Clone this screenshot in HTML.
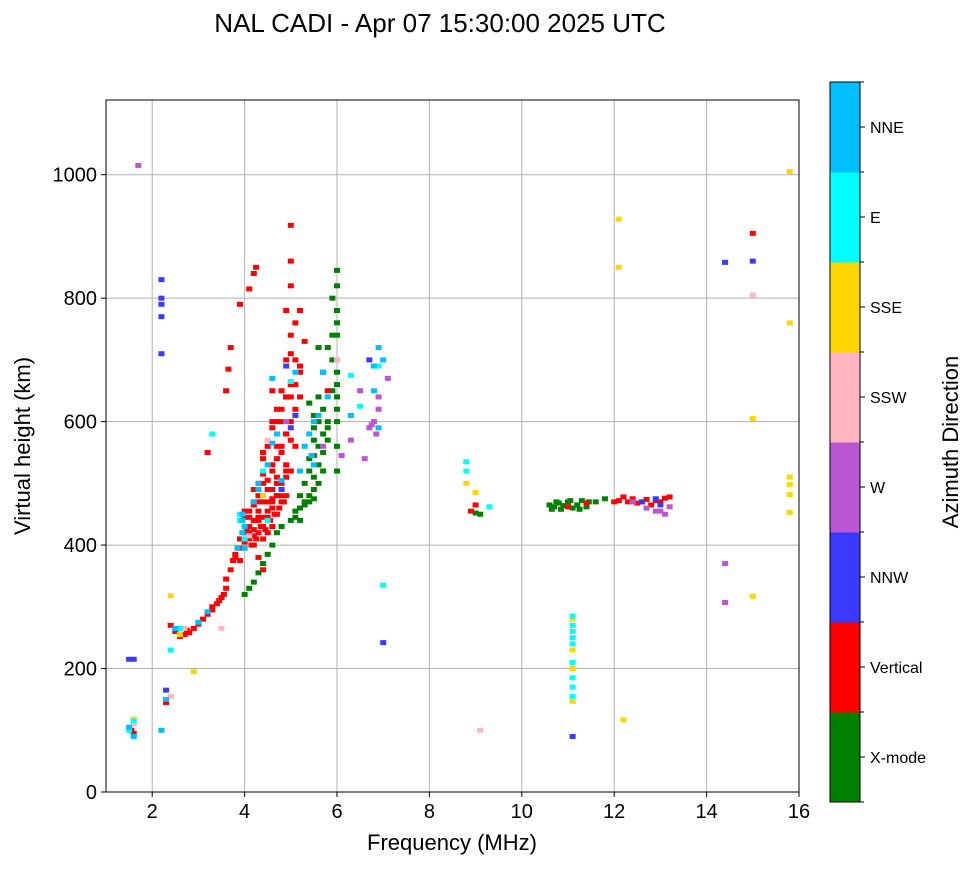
<!DOCTYPE html>
<html><head><meta charset="utf-8"><style>
body{margin:0;background:#fff;}
svg text{font-family:"Liberation Sans",sans-serif;}
</style></head><body>
<svg id="chart" width="972" height="865" xmlns="http://www.w3.org/2000/svg">
<text x="440" y="32" font-size="26" text-anchor="middle">NAL CADI - Apr 07 15:30:00 2025 UTC</text>
<g id="grid"></g>
<g id="marks"></g>
<rect x="106" y="100" width="693" height="692" fill="none" stroke="#000" stroke-width="1"/>
<g id="axes"></g>
<text x="452" y="850" font-size="22" text-anchor="middle">Frequency (MHz)</text>
<text transform="translate(30,446) rotate(-90)" font-size="22" text-anchor="middle">Virtual height (km)</text>
<g id="cbar"></g>
<text transform="translate(958,442) rotate(-90)" font-size="22" text-anchor="middle">Azimuth Direction</text>
</svg>
<script>
const xTicks=[2,4,6,8,10,12,14,16];
const yTicks=[0,200,400,600,800,1000];
const catNames=["X-mode","Vertical","NNW","W","SSW","SSE","E","NNE"];
const catColors=["#008000","#ff0000","#3a3aff","#ba55d3","#ffb6c1","#ffd700","#00ffff","#00bfff"];
const redF=[1.55,1.6,2.3,2.4,2.5,2.7,2.8,2.9,3.0,3.1,3.2,3.3,3.4,3.5,3.6,3.6,3.7,3.75,3.8,3.9,3.9,4.0,4.0,4.1,4.1,4.2,4.2,4.2,4.2,4.3,4.3,4.3,4.4,4.4,4.4,4.5,4.5,4.5,4.6,4.6,4.6,4.6,4.7,4.7,4.7,4.7,4.8,4.8,4.8,4.8,4.9,4.9,4.9,4.9,4.9,4.9,5.0,5.0,5.0,5.0,5.0,5.0,5.0,5.1,5.1,5.1,5.1,5.2,5.2,5.3,4.5,4.6,4.7,4.6,4.4,3.2,3.6,3.65,3.7,3.9,4.1,4.2,4.25,5.8,12.0,12.2,12.4,12.6,12.8,13.0,13.2,15.0,11.0,11.4,8.9,9.0,4.3,4.4,4.3,4.1,4.0,
 3.8,3.85,3.9,4.0,4.05,4.1,4.15,4.2,4.25,4.3,4.35,4.4,4.45,4.5,4.55,4.6,4.65,4.7,4.75,4.8,4.85,4.9,4.0,4.1,4.2,4.3,4.4,4.5,4.6,4.7,4.8,4.9,4.2,4.3,4.4,4.5,4.6,4.7,4.8,4.9,5.0,4.4,4.6,4.8,5.0,5.2,4.7,4.9,5.1,4.8,5.0,5.2,3.3,3.45,3.55,2.6,2.75,12.1,12.3,12.5,12.7,12.9,13.1];
const redH=[100,95,145,270,260,255,258,265,272,280,288,295,305,315,330,345,360,375,385,395,375,405,420,410,430,400,415,440,470,420,455,480,410,430,500,420,445,470,430,460,490,520,450,480,510,540,470,500,560,600,480,530,580,640,700,780,520,600,660,740,820,860,918,560,620,700,760,640,680,730,560,600,620,650,550,550,650,685,720,790,815,840,850,650,470,478,475,470,465,470,478,905,462,468,455,465,380,360,470,445,455,
 380,395,410,395,425,420,400,425,410,440,430,445,425,455,440,470,450,480,460,490,470,510,445,455,465,445,470,490,475,500,480,520,490,500,515,505,530,560,550,580,570,540,590,620,640,690,600,640,660,650,710,780,300,310,320,252,262,472,470,468,474,472,476];
const greenF=[4.0,4.1,4.2,4.3,4.4,4.5,4.6,4.7,4.8,5.0,5.1,5.2,5.3,5.4,5.5,5.5,5.6,5.7,5.8,5.3,5.2,5.4,5.5,5.5,5.6,5.7,5.8,5.9,5.9,6.0,6.0,6.0,6.0,6.0,6.0,6.0,6.0,6.0,5.8,5.7,5.6,5.5,5.9,6.0,10.6,10.7,10.8,10.9,11.0,11.1,11.2,11.3,11.4,11.6,11.8,9.0,9.1,5.4,5.6,5.2,
 5.1,5.3,5.4,5.5,5.6,5.7,5.4,5.6,5.8,6.0,6.0,6.0,5.9,5.7,5.5,10.65,10.75,10.85,11.05,11.25,11.45];
const greenH=[320,330,340,355,370,385,400,420,430,440,455,460,470,480,490,510,530,550,570,500,480,540,570,610,640,680,720,740,800,845,820,780,700,680,620,600,560,520,600,580,600,590,650,660,465,462,468,464,470,460,465,472,462,470,475,452,450,630,720,440,
 445,465,470,475,500,520,520,560,590,740,760,640,700,620,545,458,470,458,472,458,470];
const nneF=[1.5,1.6,2.3,2.5,3.0,3.2,3.95,3.95,4.0,4.2,4.3,4.5,4.6,4.7,4.8,5.2,5.3,5.4,5.5,5.6,5.7,5.8,6.3,6.9,6.8,6.8,7.0,6.9,5.1,2.2,3.95,4.3,4.6,5.45,5.5,4.0,3.85];
const nneH=[105,90,150,265,275,292,420,440,430,470,500,530,670,580,505,520,560,580,600,610,680,640,610,720,690,650,700,590,680,100,450,490,565,545,530,395,395];
const eF=[1.6,1.5,2.4,2.6,3.3,3.9,3.9,4.4,4.5,4.0,6.9,7.0,8.8,8.8,9.3,11.1,11.1,11.1,11.1,11.1,11.1,11.1,11.1,11.1,6.3,6.5,5.0];
const eH=[115,100,230,265,580,440,450,520,440,410,690,335,535,520,462,285,270,260,250,240,210,185,170,155,675,625,665];
const sseF=[1.6,2.4,2.6,2.9,8.8,9.0,11.1,11.1,11.1,11.1,12.1,12.1,12.2,15.0,15.0,15.8,15.8,15.8,15.8,15.8,15.8,4.4];
const sseH=[118,318,255,195,500,485,147,200,230,280,928,850,117,605,317,1005,760,510,498,482,453,480];
const sswF=[2.4,2.7,3.5,4.1,15.0,9.1,4.5,1.6,6.0];
const sswH=[155,265,265,415,805,100,570,110,700];
const wF=[1.7,6.1,6.3,6.5,6.6,6.8,6.7,6.9,7.1,4.9,5.7,12.4,12.7,12.9,13.1,13.2,14.4,14.4,6.9,6.75,6.85,13.0];
const wH=[1015,545,570,650,540,600,590,640,670,600,560,470,460,455,450,462,370,307,620,595,580,455];
const nnwF=[1.6,2.2,2.2,2.2,2.2,2.2,2.3,4.9,5.1,5.0,4.8,7.0,11.1,14.4,15.0,12.6,12.9,13.0,6.7,1.5];
const nnwH=[215,830,800,790,770,710,165,690,610,590,490,242,90,858,860,470,475,465,700,215];

const NS="http://www.w3.org/2000/svg";
const X0=106,X1=799,Y0=792,Y1=100,FMIN=1,FMAX=16,HMIN=0,HMAX=1121;
const xs=f=>X0+(f-FMIN)/(FMAX-FMIN)*(X1-X0);
const ys=h=>Y0-(h-HMIN)/(HMAX-HMIN)*(Y0-Y1);
function mk(tag,attrs,parent){const e=document.createElementNS(NS,tag);for(const k in attrs)e.setAttribute(k,attrs[k]);parent.appendChild(e);return e;}
const grid=document.getElementById('grid'),axes=document.getElementById('axes'),marks=document.getElementById('marks'),cbar=document.getElementById('cbar');
xTicks.forEach(t=>{const x=xs(t);
 const g=mk('line',{x1:x,x2:x,y1:Y1,y2:Y0,stroke:'#b0b0b0','stroke-width':1},grid);
 
 mk('line',{x1:x,x2:x,y1:Y0,y2:Y0+5,stroke:'#000'},axes);
 const l=mk('text',{x:x,y:Y0+26,'font-size':20,'text-anchor':'middle'},axes);l.textContent=t;
 });
yTicks.forEach(t=>{const y=ys(t);
 const g=mk('line',{x1:X0,x2:X1,y1:y,y2:y,stroke:'#b0b0b0','stroke-width':1},grid);
 
 mk('line',{x1:X0-5,x2:X0,y1:y,y2:y,stroke:'#000'},axes);
 const l=mk('text',{x:X0-9,y:y+7,'font-size':20,'text-anchor':'end'},axes);l.textContent=t;
 });
const series=[[greenF,greenH,0],[redF,redH,1],[nnwF,nnwH,2],[wF,wH,3],[sswF,sswH,4],[sseF,sseH,5],[eF,eH,6],[nneF,nneH,7]];
series.forEach(([F,H,c])=>{F.forEach((f,i)=>{
 const r=mk('rect',{x:xs(f)-3,y:ys(H[i])-2.5,width:6,height:5,fill:catColors[c]},marks);
 
 });});
const CX=830,CW=30,CT=82,CB=802,seg=(CB-CT)/8;
catNames.forEach((n,i)=>{const y=CB-(i+1)*seg;
 const r=mk('rect',{x:CX,y:y,width:CW,height:seg+0.5,fill:catColors[i]},cbar);
 
 mk('line',{x1:CX+CW,x2:CX+CW+5,y1:y+seg/2,y2:y+seg/2,stroke:'#000'},cbar);
 const l=mk('text',{x:CX+CW+10,y:y+seg/2+6,'font-size':16},cbar);l.textContent=n;
 });
for(let i=0;i<=8;i++){mk('line',{x1:CX+CW,x2:CX+CW+4,y1:CB-i*seg,y2:CB-i*seg,stroke:'#000'},cbar);}
mk('rect',{x:CX,y:CT,width:CW,height:CB-CT,fill:'none',stroke:'#000'},cbar);
</script>
</body></html>
